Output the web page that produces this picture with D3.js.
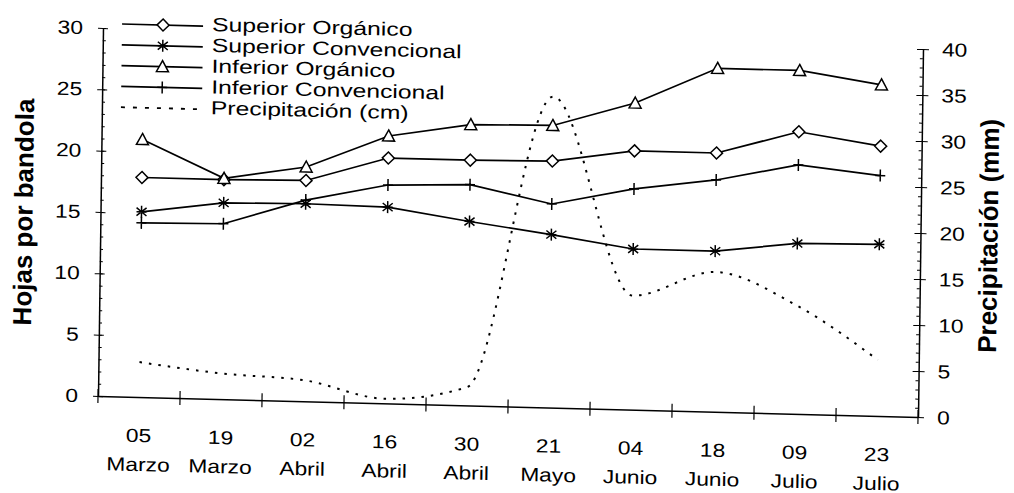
<!DOCTYPE html>
<html>
<head>
<meta charset="utf-8">
<script src="https://cdn.jsdelivr.net/npm/d3@7"></script>
<style>
  body { margin: 0; background: #fff; }
  text { font-family: "Liberation Sans", Arial, sans-serif; fill: #000; }
</style>
</head>
<body>
<svg width="1014" height="493"></svg>
<script>
// datos
var fechas = ["05", "19", "02", "16", "30", "21", "04", "18", "09", "23"];
var meses = ["Marzo", "Marzo", "Abril", "Abril", "Abril", "Mayo", "Junio", "Junio", "Julio", "Julio"];
var supOrganico = [17.9, 17.9, 18.0, 20.0, 20.0, 20.1, 21.1, 21.1, 23.0, 22.0];
var supConvencional = [15.1, 16.0, 16.1, 16.0, 15.0, 14.1, 13.1, 13.1, 13.9, 14.0];
var infOrganico = [21.0, 18.0, 19.1, 21.8, 22.9, 23.0, 25.0, 28.0, 28.0, 27.0];
var infConvencional = [14.2, 14.3, 16.4, 17.8, 18.0, 16.6, 18.0, 18.9, 20.3, 19.6];
var precipitacion = [3.8, 2.8, 2.3, 0.5, 2.0, 33.8, 12.4, 15.2, 11.8, 6.1];
var ticksIzq = [0, 5, 10, 15, 20, 25, 30];
var ticksDer = [0, 5, 10, 15, 20, 25, 30, 35, 40];
var nombres = ["Superior Orgánico", "Superior Convencional", "Inferior Orgánico", "Inferior Convencional", "Precipitación (cm)"];

var svg = d3.select("svg");
// el original es un escaneo algo torcido
var g = svg.append("g").attr("transform", "matrix(1,0.0257,-0.0136,1,5.39,-2.52)");

var x0 = 98, x1 = 918, yBase = 396, yTop = 28;
var x = d3.scaleBand().domain(d3.range(fechas.length)).range([x0, x1]);
var cx = function(i) { return x(i) + x.bandwidth() / 2; };
var yIzq = d3.scaleLinear().domain([0, 30]).range([yBase, yTop]);
var yDer = d3.scaleLinear().domain([0, 40]).range([yBase, yTop]);
var ESTIRA = 1.2;

// eje x
var gx = g.append("g").attr("transform", "translate(0," + yBase + ")")
  .call(d3.axisBottom(x).tickSize(0).tickSizeOuter(0));
gx.select(".domain").attr("stroke-width", 1.5);
gx.selectAll(".tick text").each(function(i) {
  var t = d3.select(this).text(null).attr("y", null).attr("dy", null)
    .attr("font-size", 19).attr("transform", "scale(" + ESTIRA + ",1)");
  t.append("tspan").attr("x", 0).attr("y", 45).text(fechas[i]);
  t.append("tspan").attr("x", 0).attr("y", 74).text(meses[i]);
});
gx.selectAll("line.sep")
  .data(x.domain().map(function(i) { return x(i); }).concat([x1]))
  .enter().append("line").attr("class", "sep")
  .attr("x1", function(d) { return d; }).attr("x2", function(d) { return d; })
  .attr("y1", -7).attr("y2", 7).attr("stroke", "#000").attr("stroke-width", 1.2);

// eje izquierdo
var gl = g.append("g").attr("transform", "translate(" + x0 + ",0)");
gl.append("g").call(d3.axisRight(yIzq).tickValues(d3.range(0, 31)).tickSize(3).tickFormat(""))
  .select(".domain").remove();
gl.append("g").call(d3.axisRight(yIzq).tickValues(ticksIzq).tickSize(5).tickFormat(""))
  .select(".domain").remove();
var ejeIzq = gl.append("g").call(d3.axisLeft(yIzq).tickValues(ticksIzq).tickSize(5).tickSizeOuter(0));
ejeIzq.select(".domain").attr("stroke-width", 1.5);
ejeIzq.selectAll(".tick text").attr("x", 0).attr("font-size", 19)
  .attr("transform", "translate(-20,0) scale(" + ESTIRA + ",1)");

// eje derecho
var gr = g.append("g").attr("transform", "translate(" + x1 + ",0)");
gr.append("g").call(d3.axisLeft(yDer).tickValues(d3.range(0, 41)).tickSize(3).tickFormat(""))
  .select(".domain").remove();
gr.append("g").call(d3.axisLeft(yDer).tickValues(ticksDer).tickSize(6).tickFormat(""))
  .select(".domain").remove();
var ejeDer = gr.append("g").call(d3.axisRight(yDer).tickValues(ticksDer).tickSize(6).tickSizeOuter(0));
ejeDer.select(".domain").attr("stroke-width", 1.5);
ejeDer.selectAll(".tick text").attr("x", 0).attr("font-size", 19)
  .attr("transform", "translate(19,0) scale(" + ESTIRA + ",1)");

// titulos de ejes
g.append("text").attr("transform", "translate(21,214) rotate(-90)")
  .attr("text-anchor", "middle").attr("dy", "0.35em")
  .attr("font-size", 26).attr("font-weight", "bold").text("Hojas por bandola");
g.append("text").attr("transform", "translate(986,213) rotate(-90)")
  .attr("text-anchor", "middle").attr("dy", "0.35em")
  .attr("font-size", 26).attr("font-weight", "bold").text("Precipitación (mm)");

// marcadores
var marcas = {
  rombo: "M0,-6L6,0L0,6L-6,0Z",
  triangulo: "M0,-6L6,5L-6,5Z",
  estrella: "M0,-6V6M-5,-4L5,4M-5,4L5,-4M-5,0H5",
  cruz: "M0,-6V6M-5,0H5"
};

var series = [
  { datos: supOrganico, marca: "rombo" },
  { datos: supConvencional, marca: "estrella" },
  { datos: infOrganico, marca: "triangulo" },
  { datos: infConvencional, marca: "cruz" }
];

var linea = d3.line().x(function(d, i) { return cx(i); }).y(function(d) { return yIzq(d); });
var lineaLluvia = d3.line().x(function(d, i) { return cx(i); }).y(function(d) { return yDer(d); })
  .curve(d3.curveMonotoneX);

g.append("path").datum(precipitacion).attr("d", lineaLluvia)
  .attr("fill", "none").attr("stroke", "#000").attr("stroke-width", 2)
  .attr("stroke-dasharray", "2.5,7");

series.forEach(function(s) {
  g.append("path").datum(s.datos).attr("d", linea)
    .attr("fill", "none").attr("stroke", "#000").attr("stroke-width", 1.7);
  g.selectAll(null).data(s.datos).enter().append("path")
    .attr("transform", function(d, i) { return "translate(" + cx(i) + "," + yIzq(d) + ")"; })
    .attr("d", marcas[s.marca])
    .attr("fill", "#fff").attr("stroke", "#000").attr("stroke-width", 1.5);
});

// leyenda
var leyenda = g.append("g");
var filas = leyenda.selectAll("g").data(nombres).enter().append("g")
  .attr("transform", function(d, i) { return "translate(0," + (23.5 + i * 20.8) + ")"; });
filas.append("line").attr("x1", 117).attr("x2", 198).attr("stroke", "#000")
  .attr("stroke-width", function(d, i) { return i < 4 ? 1.7 : 1.8; })
  .attr("stroke-dasharray", function(d, i) { return i < 4 ? null : "4,8"; });
filas.filter(function(d, i) { return i < 4; }).append("path")
  .attr("transform", "translate(158,0)")
  .attr("d", function(d, i) { return marcas[series[i].marca]; })
  .attr("fill", "#fff").attr("stroke", "#000").attr("stroke-width", 1.5);
filas.append("text").attr("transform", "translate(207,0) scale(1.3,1)")
  .attr("dy", "0.25em").attr("font-size", 19).text(function(d) { return d; });
</script>
</body>
</html>
